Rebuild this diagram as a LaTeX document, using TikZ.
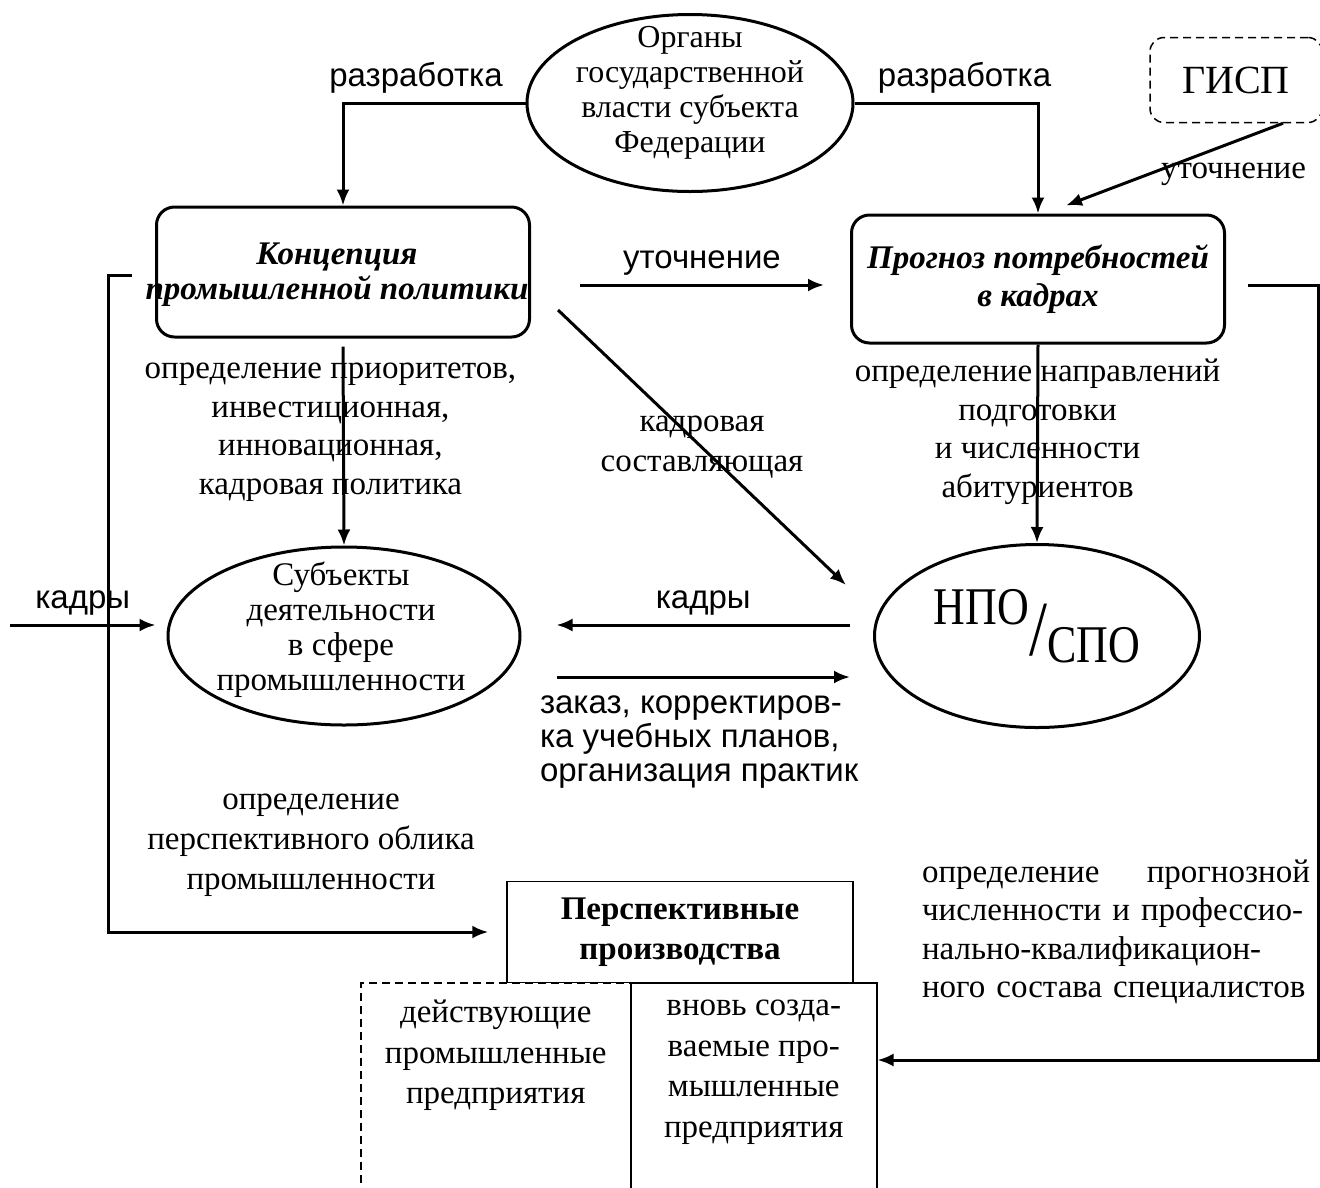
\documentclass[tikz,border=0pt]{standalone}
\usepackage{fontspec}
\setmainfont{Liberation Serif}
\setsansfont{Liberation Sans}
\usetikzlibrary{shapes,arrows.meta,positioning,calc}

\begin{document}
\begin{tikzpicture}[
    x=1pt, y=-1pt,
    font=\fontsize{33}{38.5}\selectfont,
    oval/.style={ellipse, draw, line width=3pt, inner sep=0pt},
    box/.style={rectangle, rounded corners=18pt, draw, line width=3pt, align=center},
    flatbox/.style={rectangle, draw, line width=1.5pt},
    lbl/.style={align=center, inner sep=0pt},
    slbl/.style={font=\sffamily\fontsize{33}{34}\selectfont, inner sep=0pt},
    arrow/.style={-{Latex[length=16pt,width=13pt]}, line width=3pt}
]
\useasboundingbox (0,0) rectangle (1320,1187);

% upper level
\node[oval, minimum width=326, minimum height=177] (organs) at (690,103) {};
\node[lbl, font=\fontsize{32}{35}\selectfont] (organstext) at ($(organs)+(0,-10)$) {Органы\\государственной\\власти субъекта\\Федерации};
\node[box, dashed, dash pattern=on 8pt off 5pt, line width=1.5pt, rounded corners=14pt, minimum width=172, minimum height=85] (gisp) at (1236,80) {\fontsize{40}{40}\selectfont ГИСП};
\node[box, minimum width=373, minimum height=130] (concept) at (343,272) {};
\node[lbl, font=\bfseries\itshape\fontsize{33}{35}\selectfont] (concepttext) at ($(concept)+(-6,3)$) {Концепция\\промышленной политики};
\node[box, minimum width=373, minimum height=128, font=\bfseries\itshape\fontsize{33}{38}\selectfont] (forecast) at (1038,279) {Прогноз потребностей\\в кадрах};

% middle level
\node[oval, minimum width=352, minimum height=178] (subjects) at (344,636) {};
\node[lbl, font=\fontsize{33}{35}\selectfont] (subjectstext) at ($(subjects)+(-3,-6)$) {Субъекты\\деятельности\\в сфере\\промышленности};
\node[oval, minimum width=325, minimum height=183] (npo) at (1037,636) {};
\node[inner sep=0pt, yshift=10pt] (npotext) at (npo) {\scalebox{0.83}[1]{\fontsize{53}{53}\selectfont НПО\raisebox{-31pt}{\fontsize{78}{78}\selectfont/}\raisebox{-38pt}{СПО}}};

% lower level
\node[flatbox, minimum width=346, minimum height=101, align=center, font=\bfseries\fontsize{33}{40}\selectfont] (persp) at (680,932) {Перспективные\\производства};
\node[flatbox, dashed, dash pattern=on 8pt off 5pt, fill=white, minimum width=270, minimum height=230, anchor=north west] (existing) at (360,982) {};
\node[flatbox, minimum width=246, minimum height=230, anchor=north west] (newbox) at (630,982) {};
\node[lbl, below=18pt of existing.north, font=\fontsize{33}{40.5}\selectfont] (existingtext) {действующие\\промышленные\\предприятия};
\node[lbl, below=18pt of newbox.north, font=\fontsize{33}{40.5}\selectfont] (newtext) {вновь созда-\\ваемые про-\\мышленные\\предприятия};

% free labels
\node[lbl, font=\fontsize{33}{40}\selectfont] (outlook) at (311,845) {определение\\перспективного облика\\промышленности};
\node[lbl, text width=388, align=left] (forecastnote) at (1116,932) {определение\hfill прогнозной\\численности и профессио-\\нально-квалификацион-\\ного состава специалистов};

\coordinate (inflow) at (10,625);
\coordinate (fbcorner) at (108,932);
\coordinate (retcorner) at (1318,1060);

% connectors
\draw[arrow] (organs.west) -| node[slbl, pos=0.3, above=8pt] (devleft) {разработка} (concept.north);
\draw[arrow] (organs.east) -| node[slbl, pos=0.3, above=8pt] (devright) {разработка} (forecast.north);
\draw[arrow] ($(gisp.south)+(47,0)$) -- node[lbl, pos=0.5, anchor=west, xshift=-15pt, yshift=-10pt] (refinegisp) {уточнение} ($(forecast.north)+(28,-8)$);
\draw[arrow] ($(concept.east)+(49,13)$) -- node[slbl, above=8pt] (refine) {уточнение} ($(forecast.west)+(-26,6)$);
\draw[arrow] ($(concept.east)+(27,38)$) -- node[lbl, pos=0.5, font=\fontsize{33}{40}\selectfont] (staffpart) {кадровая\\составляющая} ($(npo.west)+(-27,-51)$);
\draw[arrow] ($(concept.south)+(0,8)$) -- node[lbl, pos=0.43, xshift=-13pt] (priorities) {определение приоритетов,\\инвестиционная,\\инновационная,\\кадровая политика} (subjects.north);
\draw[arrow] (forecast.south) -- node[lbl, pos=0.44] (directions) {определение направлений\\подготовки\\и численности\\абитуриентов} (npo.north);
\draw[arrow] ($(npo.west)+(-23,-11)$) -- node[slbl, above=8pt] (staffback) {кадры} ($(subjects.east)+(35,-11)$);
\draw[arrow] ($(subjects.east)+(35,41)$) -- node[slbl, pos=0, anchor=north west, yshift=-17pt, xshift=-18pt, align=left] (order) {заказ, корректиров-\\ка учебных планов,\\организация практик} ($(npo.west)+(-23,41)$);
\draw[arrow] (inflow) -- node[slbl, above=8pt] (staffin) {кадры} ($(subjects.west)+(-11,-11)$);
\draw[arrow] ($(concept.west)+(-23,3)$) -| (fbcorner) -- ($(persp.west)+(-18,0)$);
\draw[arrow] ($(forecast.east)+(22,6)$) -| (retcorner) -- (newbox.east |- retcorner);

\end{tikzpicture}
\end{document}
